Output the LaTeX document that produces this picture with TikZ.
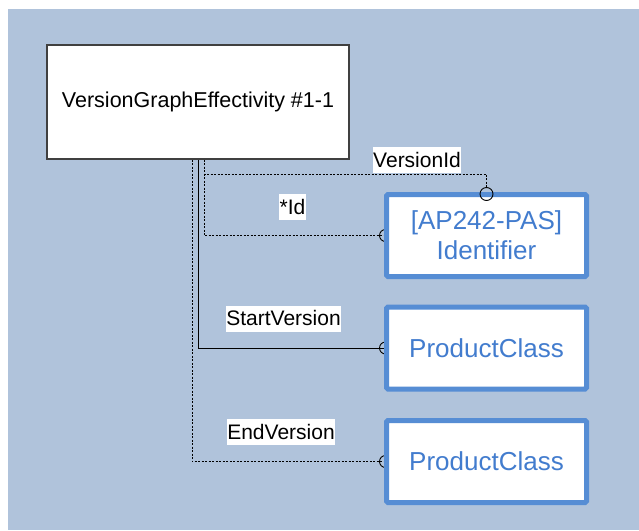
\documentclass[tikz,border=0pt]{standalone}
\usepackage{fontspec}
\setmainfont{Liberation Sans}
\usetikzlibrary{positioning,backgrounds}

\definecolor{panel}{RGB}{176,195,219}
\definecolor{boxblue}{RGB}{86,141,212}
\definecolor{boxtext}{RGB}{66,124,206}

\begin{document}
\begin{tikzpicture}[x=1pt,y=-1pt,
  entity/.style={draw=black!75,line width=1.2pt,fill=white,minimum width=302pt,minimum height=114pt,font=\fontsize{21.5}{25}\selectfont},
  typebox/.style={draw=boxblue,line width=5pt,fill=white,rounded corners=1.5pt,minimum width=200pt,minimum height=82pt,text=boxtext,align=center,font=\fontsize{26}{30}\selectfont},
  role/.style={fill=white,inner xsep=0.5pt,inner ysep=1pt,text height=19pt,text depth=5pt,font=\fontsize{21}{25}\selectfont},
  opt/.style={line width=0.9pt,dash pattern=on 2pt off 1.5pt},
  req/.style={line width=1pt},
  endmark/.style={line width=0.9pt}
]
\useasboundingbox (0,0) rectangle (639,530);
%--- boxes ---
\node[entity] (veg) at (198,102) {VersionGraphEffectivity \#1-1};
\node[typebox] (ident) at (486.5,235.5) {[AP242-PAS]\\Identifier};
\node[typebox] (startpc) at (486.5,348) {ProductClass};
\node[typebox] (endpc) at (486.5,461.5) {ProductClass};
%--- role labels ---
\node[role] (vidlbl) at (417,160) {VersionId};
\node[role] (idlbl) at (292.5,207) {*Id};
\node[role] (startlbl) at (283.5,318.5) {StartVersion};
\node[role] (endlbl) at (281,432) {EndVersion};
\coordinate (vidend) at ([yshift=-2pt]ident.north);
\draw[endmark] (vidend) circle (6.5pt);
%--- connectors behind the boxes ---
\begin{scope}[on background layer]
  \fill[panel] (8,9) rectangle (639,530);
  \draw[opt] ([xshift=6pt]veg.south) |- ([yshift=18pt]ident.north) -| ([yshift=6.5pt]vidend);
  \draw[opt] ([xshift=6pt]veg.south) |- (ident.west);
  \draw[req] (veg.south) |- (startpc.west);
  \draw[opt] ([xshift=-6pt]veg.south) |- (endpc.west);
  \draw[endmark] ([xshift=1.5pt]ident.west) circle (6pt);
  \draw[endmark] ([xshift=1.5pt]startpc.west) circle (6pt);
  \draw[endmark] ([xshift=1.5pt]endpc.west) circle (6pt);
\end{scope}
\end{tikzpicture}
\end{document}
